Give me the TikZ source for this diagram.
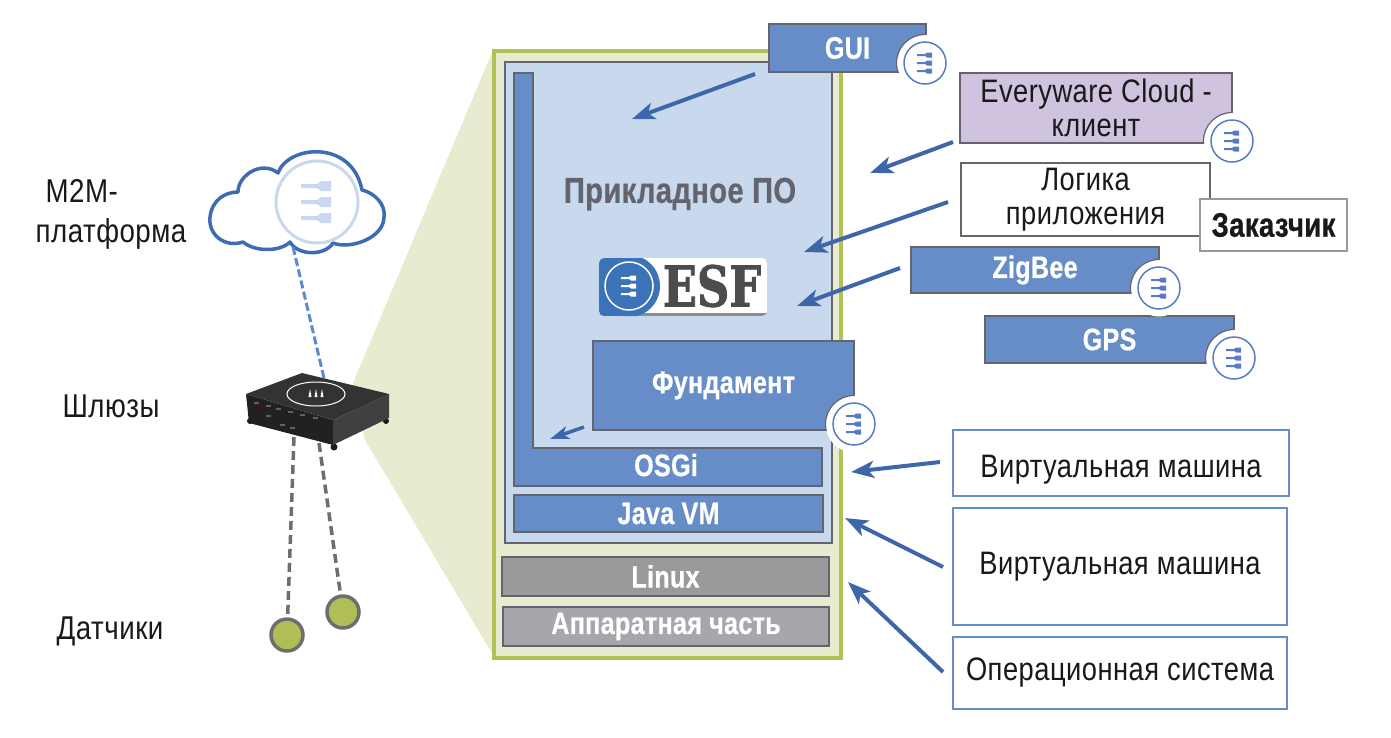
\documentclass[tikz,border=0pt]{standalone}
\usepackage{fontspec}
\usepackage{tikz}
\usetikzlibrary{arrows.meta, shapes, positioning}
\usepackage{xcolor}
\setmainfont{Liberation Sans}
\newfontfamily\labelfont[FakeStretch=0.84,LetterSpace=1.5]{Liberation Sans}
\newfontfamily\headfont[FakeStretch=0.81,LetterSpace=1,BoldFeatures={FakeBold=0.6}]{Liberation Sans}
\newfontfamily\badgefont[FakeStretch=0.8,BoldFeatures={FakeBold=1.5}]{DejaVu Serif}
\definecolor{wedgegreen}{RGB}{232,235,208}
\definecolor{framegreen}{RGB}{179,192,84}
\definecolor{paleblue}{RGB}{200,217,238}
\definecolor{layerblue}{RGB}{103,141,200}
\definecolor{arrowblue}{RGB}{62,103,169}
\definecolor{ringblue}{RGB}{88,124,196}
\definecolor{cloudblue}{RGB}{59,108,180}
\definecolor{dashblue}{RGB}{88,140,208}
\definecolor{edgegray}{RGB}{100,100,110}
\definecolor{linuxgray}{RGB}{154,154,155}
\definecolor{hardgray}{RGB}{166,166,171}
\definecolor{lilac}{RGB}{207,195,223}
\definecolor{sensorgreen}{RGB}{177,190,85}
\definecolor{sensorrim}{RGB}{109,110,113}
\definecolor{badgeblue}{RGB}{59,115,185}
\tikzset{
    layerbox/.style={draw=edgegray, fill=layerblue, line width=1.2pt, text=white, inner sep=0pt, font=\headfont\bfseries\fontsize{31pt}{34pt}\selectfont},
    grayboxa/.style={layerbox, fill=linuxgray},
    grayboxb/.style={layerbox, fill=hardgray},
    plainbox/.style={draw=edgegray, fill=white, line width=1.2pt, inner sep=0pt, align=center, text=black!90, font=\labelfont\fontsize{32.5pt}{34pt}\selectfont},
    vmbox/.style={plainbox, draw=layerblue},
    sidelabel/.style={inner sep=0pt, text=black!90, font=\labelfont\fontsize{33pt}{40pt}\selectfont},
    sensornode/.style={circle, draw=sensorrim, fill=sensorgreen, line width=3.5pt, minimum size=32pt, inner sep=0pt},
    flowarrow/.style={draw=arrowblue, line width=4pt, -{Stealth[length=23pt, width=17pt, inset=6pt]}},
    graydash/.style={draw=sensorrim, line width=3.5pt, dash pattern=on 9pt off 5pt},
    pics/plugglyph/.style={code={
        \foreach \row in {-8,0,8} {
            \fill[#1] (-8pt,\row pt-1pt) -- (0pt,\row pt-1pt) -- (2pt,\row pt-2.5pt) -- (7pt,\row pt-2.5pt) -- (7pt,\row pt+2.5pt) -- (2pt,\row pt+2.5pt) -- (0pt,\row pt+1pt) -- (-8pt,\row pt+1pt) -- cycle;
        }
    }},
    pics/plugicon/.style={code={
        \draw[ringblue, fill=white, line width=1.5pt] (0pt,0pt) circle (21pt);
        \pic {plugglyph=ringblue};
    }},
}

\begin{document}
\begin{tikzpicture}[yscale=-1]
    \useasboundingbox (0pt,0pt) rectangle (1391pt,737pt);
    % Wedge
    \fill[wedgegreen] (493pt,50pt) -- (353pt,383pt) -- (365pt,440pt) -- (493pt,655pt) -- cycle;
    % Stack
    \draw[framegreen, fill=wedgegreen, line width=4pt] (494pt,51pt) rectangle (841pt,658pt);
    \draw[edgegray, fill=paleblue, line width=1.2pt] (505pt,62pt) rectangle (832pt,543pt);
    \draw[edgegray, fill=layerblue, line width=1.2pt] (514pt,73pt) -- (533pt,73pt) -- (533pt,448pt) -- (822pt,448pt) -- (822pt,486pt) -- (514pt,486pt) -- cycle;
    \node[text=white, inner sep=0pt, font=\headfont\bfseries\fontsize{31pt}{34pt}\selectfont] (osgi) at (666pt,465pt) {OSGi};
    \node[layerbox, minimum width=309pt, minimum height=37pt] (javavm) at (668.5pt,513.5pt) {Java VM};
    \node[grayboxa, minimum width=327pt, minimum height=39pt] (linux) at (665.5pt,576.5pt) {Linux};
    \node[grayboxb, minimum width=326pt, minimum height=39pt] (hardware) at (666pt,626.5pt) {Аппаратная часть};
    \node[inner sep=0pt, text=edgegray, font=\headfont\bfseries\fontsize{36pt}{40pt}\selectfont] (appsoft) at (680pt,194pt) {Прикладное ПО};
    \node[layerbox, minimum width=261pt, minimum height=89pt] (fundament) at (723.5pt,385.5pt) {Фундамент};
    % Badge
    \begin{scope}
        \clip[rounded corners=5pt] (599pt,258pt) rectangle (767pt,316pt);
        \fill[white] (599pt,258pt) rectangle (767pt,316pt);
        \fill[black!45] (599pt,313pt) rectangle (767pt,316pt);
        \fill[badgeblue] (599pt,258pt) rectangle (630pt,316pt);
        \fill[badgeblue] (629pt,286pt) circle (31pt);
    \end{scope}
    \draw[white, line width=1.5pt] (629pt,286pt) circle (24pt);
    \pic at (629pt,286pt) {plugglyph=white};
    \node[inner sep=0pt, text=black!70, font=\badgefont\bfseries\fontsize{56pt}{56pt}\selectfont] (esflabel) at (712pt,286pt) {ESF};
    % Outer modules
    \node[layerbox, minimum width=157pt, minimum height=48pt] (gui) at (847.5pt,48pt) {GUI};
    \node[plainbox, fill=lilac, minimum width=272pt, minimum height=70pt] (everyware) at (1096pt,108pt) {Everyware Cloud -\\клиент};
    \node[plainbox, minimum width=249pt, minimum height=73pt] (logic) at (1085.5pt,199.5pt) {Логика\\приложения};
    \node[plainbox, draw=black!40, minimum width=147pt, minimum height=52pt, font=\headfont\bfseries\fontsize{34pt}{34pt}\selectfont] (customer) at (1273.5pt,225pt) {Заказчик};
    \node[layerbox, minimum width=248pt, minimum height=46pt] (zigbee) at (1035pt,270pt) {ZigBee};
    \node[layerbox, minimum width=249pt, minimum height=47pt] (gps) at (1109.5pt,339.5pt) {GPS};
    \node[vmbox, minimum width=336pt, minimum height=66pt, text height=28pt, text depth=0pt] (vmone) at (1121pt,463pt) {Виртуальная машина};
    \node[vmbox, minimum width=334pt, minimum height=117pt] (vmtwo) at (1120pt,566.5pt) {Виртуальная машина};
    \node[vmbox, minimum width=334pt, minimum height=72pt] (ossystem) at (1120pt,673pt) {Операционная система};
    % Icons
    \foreach \boxname/\iconpos in {gui/{925pt,63pt}, everyware/{1232pt,141pt}, zigbee/{1159pt,288pt}, gps/{1234pt,358pt}, fundament/{854pt,424pt}} {
        \fill[white] (\iconpos) circle (28.5pt);
        \begin{scope}
            \clip (\boxname.south west) rectangle (\boxname.north east);
            \draw[edgegray, line width=1.2pt] (\iconpos) circle (28.5pt);
        \end{scope}
        \pic at (\iconpos) {plugicon};
    }
    % Arrows
    \coordinate (guistart) at (755pt,74pt);
    \coordinate (guitip) at (632pt,119pt);
    \coordinate (cloudstart) at (953pt,142pt);
    \coordinate (cloudtip) at (870pt,173pt);
    \coordinate (logicstart) at (948pt,202pt);
    \coordinate (logictip) at (804pt,252pt);
    \coordinate (zigstart) at (900pt,268pt);
    \coordinate (zigtip) at (797pt,306pt);
    \coordinate (fundstart) at (584pt,427pt);
    \coordinate (fundtip) at (550pt,439pt);
    \coordinate (vmonestart) at (940pt,462pt);
    \coordinate (vmonetip) at (851pt,472pt);
    \coordinate (vmtwostart) at (943pt,567pt);
    \coordinate (vmtwotip) at (845pt,518pt);
    \coordinate (osstart) at (943pt,672pt);
    \coordinate (ostip) at (848pt,582pt);
    \foreach \from/\to in {guistart/guitip, cloudstart/cloudtip, logicstart/logictip, zigstart/zigtip, vmonestart/vmonetip, vmtwostart/vmtwotip, osstart/ostip} {
        \draw[flowarrow] (\from) -- (\to);
    }
    \draw[draw=arrowblue, line width=3.5pt, -{Stealth[length=19pt, width=13pt, inset=5pt]}] (fundstart) -- (fundtip);
    % Cloud
    \draw[cloudblue, fill=white, line width=3.5pt, line join=round] (243pt,242pt)
        .. controls (225pt,248pt) and (208pt,235pt) .. (210pt,217pt)
        .. controls (212pt,200pt) and (225pt,192pt) .. (238pt,192pt)
        .. controls (238pt,175pt) and (262pt,160pt) .. (278pt,173pt)
        .. controls (288pt,145pt) and (352pt,139pt) .. (362pt,190pt)
        .. controls (375pt,193pt) and (386pt,205pt) .. (384pt,217pt)
        .. controls (384pt,238pt) and (350pt,250pt) .. (333pt,243pt)
        .. controls (325pt,256pt) and (298pt,256pt) .. (290pt,242pt)
        .. controls (280pt,252pt) and (255pt,252pt) .. (243pt,242pt) -- cycle;
    \draw[paleblue, line width=3pt] (317pt,202pt) circle (41pt);
    \pic[scale=2] at (317pt,202pt) {plugglyph=paleblue};
    \coordinate (cloudtail) at (293pt,247pt);
    \coordinate (gatewaytop) at (324pt,378pt);
    \draw[dashblue, line width=3pt, dash pattern=on 8pt off 3.5pt] (cloudtail) -- (gatewaytop);
    % Sensors
    \coordinate (gatewaya) at (294pt,437pt);
    \coordinate (gatewayb) at (319pt,443pt);
    \node[sensornode] (sensora) at (287pt,635pt) {};
    \node[sensornode] (sensorb) at (343pt,612pt) {};
    \draw[graydash] (gatewaya) -- (sensora);
    \draw[graydash] (gatewayb) -- (sensorb);
    % Gateway
    \fill[black!90] (334pt,447pt) circle (3.5pt) (386pt,421pt) circle (3pt) (250pt,421pt) circle (3pt);
    \fill[black!87] (246pt,394pt) -- (333pt,420pt) -- (333pt,445pt) -- (249pt,423pt) -- cycle;
    \fill[black!75] (333pt,420pt) -- (389pt,394pt) -- (389pt,418pt) -- (333pt,445pt) -- cycle;
    \fill[black!80] (246pt,394pt) -- (302pt,373pt) -- (389pt,394pt) -- (333pt,420pt) -- cycle;
    \draw[white, line width=1pt] (316pt,394pt) ellipse (29pt and 12pt);
    \foreach \portx/\porty in {254/402, 266/405, 276/408, 288/411, 300/414, 313/417, 266/415, 280/424, 290/427} {
        \fill[black!62] (\portx pt,\porty pt) rectangle ++(5pt,2pt);
    }
    \fill[red!50!black] (260pt,404pt) rectangle ++(2pt,4pt);
    \foreach \tickx in {-6,0,6} {
        \fill[white] (316pt+\tickx pt,389pt) -- (316pt+\tickx pt+1.5pt,397pt) -- (316pt+\tickx pt-1.5pt,397pt) -- cycle;
    }
    % Left labels
    \node[sidelabel, align=left] (platform) at (111pt,214pt) {\hspace*{10pt}M2M-\\платформа};
    \node[sidelabel] (gatewaylabel) at (111pt,406pt) {Шлюзы};
    \node[sidelabel] (sensorlabel) at (110pt,631pt) {Датчики};
\end{tikzpicture}
\end{document}
